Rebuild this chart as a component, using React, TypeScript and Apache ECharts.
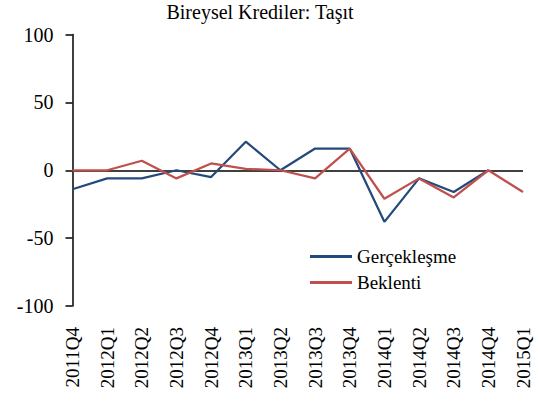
import React, { useEffect, useRef } from "react";
import * as echarts from "echarts";

const categories = [
  "2011Q4", "2012Q1", "2012Q2", "2012Q3", "2012Q4",
  "2013Q1", "2013Q2", "2013Q3", "2013Q4",
  "2014Q1", "2014Q2", "2014Q3", "2014Q4", "2015Q1",
];
const gerceklesme: (number | null)[] = [-14, -6, -6, 0, -5, 21, 0, 16, 16, -38, -6, -16, 0, null];
const beklenti: number[] = [0, 0, 7, -6, 5, 1, 0, -6, 16, -21, -6, -20, 0, -16];
const yTicks = { min: -100, max: 100, interval: 50 };

const FONT = "'Liberation Serif', 'Times New Roman', serif";

export default function App() {
  const ref = useRef<HTMLDivElement>(null);
  useEffect(() => {
    document.body.style.margin = "0";
    const chart = echarts.init(ref.current!, null, { renderer: "svg" });
    chart.setOption({
      animation: false,
      backgroundColor: "#ffffff",
      graphic: [
        {
          type: "text",
          style: {
            x: 260,
            y: 2,
            text: "Bireysel Krediler: Taşıt",
            textAlign: "center",
            textVerticalAlign: "top",
            font: `20px ${FONT}`,
            fill: "#000",
          },
        },
      ],
      grid: { left: 72.5, right: 17, top: 34.5, bottom: 95, containLabel: false },
      legend: {
        orient: "vertical",
        left: 305,
        top: 242,
        itemWidth: 42,
        itemHeight: 3,
        itemGap: 7,
        icon: "rect",
        textStyle: { fontFamily: FONT, fontSize: 19, color: "#000" },
        data: [
          { name: "Gerçekleşme", itemStyle: { color: "#244a7c" } },
          { name: "Beklenti", itemStyle: { color: "#c0504d" } },
        ],
      },
      xAxis: {
        type: "category",
        data: categories,
        boundaryGap: false,
        axisLine: { show: false, onZero: false },
        axisTick: { show: false },
        axisLabel: {
          rotate: 90,
          margin: 21,
          fontFamily: FONT,
          fontSize: 19,
          color: "#000",
          interval: 0,
        },
        splitLine: { show: false },
      },
      yAxis: {
        type: "value",
        min: yTicks.min,
        max: yTicks.max,
        interval: yTicks.interval,
        axisLine: { show: true, lineStyle: { color: "#000", width: 1.5 } },
        axisTick: { show: true, inside: false, length: 7, lineStyle: { color: "#000", width: 1.5 } },
        axisLabel: { margin: 19, fontFamily: FONT, fontSize: 20, color: "#000" },
        splitLine: { show: false },
      },
      series: [
        {
          name: "Gerçekleşme",
          type: "line",
          data: gerceklesme,
          symbol: "none",
          color: "#244a7c",
          lineStyle: { color: "#244a7c", width: 2.25 },
          z: 3,
          markLine: {
            silent: true,
            symbol: "none",
            label: { show: false },
            lineStyle: { color: "#404040", width: 2, type: "solid" },
            data: [{ yAxis: 0 }],
            z: 1,
          },
        },
        {
          name: "Beklenti",
          type: "line",
          data: beklenti,
          symbol: "none",
          color: "#c0504d",
          lineStyle: { color: "#c0504d", width: 2.25 },
          z: 4,
        },
      ],
    });
    return () => chart.dispose();
  }, []);
  return <div ref={ref} style={{ width: 540, height: 401 }} />;
}
